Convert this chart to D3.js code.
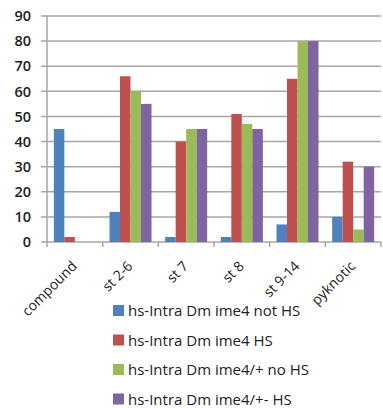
<!DOCTYPE html>
<html>
<head>
<meta charset="utf-8">
<script src="https://cdn.jsdelivr.net/npm/d3@7/dist/d3.min.js"></script>
<style>
  html, body { margin: 0; padding: 0; background: #fff; }
  svg { display: block; }
  text { font-family: "Open Sans", "DejaVu Sans", sans-serif; fill: #222; }
</style>
</head>
<body>
<svg id="chart" width="383" height="408"></svg>
<script>
// Stage categories
const categories = ["compound", "st 2-6", "st 7", "st 8", "st 9-14", "pyknotic"];
// Series names
const seriesNames = [
  "hs-Intra Dm ime4 not HS",
  "hs-Intra Dm ime4 HS",
  "hs-Intra Dm ime4/+ no HS",
  "hs-Intra Dm ime4/+- HS"
];
// Values per series, in category order
const notHS     = [45, 12, 2, 2, 7, 10];
const hs        = [2, 66, 40, 51, 65, 32];
const plusNoHS  = [0, 60, 45, 47, 80, 5];
const plusHS    = [0, 55, 45, 45, 80, 30];
const seriesValues = [notHS, hs, plusNoHS, plusHS];
const colors = ["#4F81BD", "#C0504D", "#9BBB59", "#8064A2"];
const yTicks = [0, 10, 20, 30, 40, 50, 60, 70, 80, 90];

const svg = d3.select("#chart");
const plotLeft = 47, plotRight = 381, plotTop = 16, plotBottom = 242;

const x = d3.scaleBand().domain(categories).range([plotLeft, plotRight]).paddingInner(0).paddingOuter(0);
const inner = d3.scaleBand().domain(d3.range(seriesNames.length))
  .range([0, x.bandwidth()]).paddingInner(0).paddingOuter(0.65);
const y = d3.scaleLinear().domain([0, 90]).range([plotBottom, plotTop]);

// Horizontal gridlines
svg.append("g").selectAll("line").data(yTicks).join("line")
  .attr("x1", plotLeft - 6).attr("x2", plotRight)
  .attr("y1", d => y(d)).attr("y2", d => y(d))
  .attr("stroke", "#a6a6a6").attr("stroke-width", 1.5);

// Y axis labels
svg.append("g").selectAll("text").data(yTicks).join("text")
  .attr("x", 31).attr("y", d => y(d))
  .attr("dy", "0.36em")
  .attr("text-anchor", "end")
  .style("font-size", "14.5px")
  .style("font-weight", "600")
  .text(d => d);

// Y axis line
svg.append("line")
  .attr("x1", plotLeft).attr("x2", plotLeft).attr("y1", plotTop).attr("y2", plotBottom + 5)
  .attr("stroke", "#a6a6a6").attr("stroke-width", 1.5);

// Category tick marks
const bounds = categories.map(c => x(c)).concat([plotRight]);
svg.append("g").selectAll("line").data(bounds.slice(1)).join("line")
  .attr("x1", d => d).attr("x2", d => d)
  .attr("y1", plotBottom).attr("y2", plotBottom + 5)
  .attr("stroke", "#a6a6a6").attr("stroke-width", 1.5);

// Bars
const groups = svg.append("g").selectAll("g").data(seriesValues).join("g")
  .attr("fill", (d, i) => colors[i]);
groups.each(function(vals, si) {
  d3.select(this).selectAll("rect").data(vals).join("rect")
    .attr("x", (v, ci) => x(categories[ci]) + inner(si))
    .attr("width", inner.bandwidth())
    .attr("y", v => y(v))
    .attr("height", v => plotBottom - y(v));
});

// Rotated category labels, text ending just right of each category centre
svg.append("g").selectAll("text").data(categories).join("text")
  .attr("transform", d => `translate(${x(d) + x.bandwidth() / 2 + 3},${plotBottom + 25}) rotate(-45)`)
  .attr("text-anchor", "end")
  .style("font-size", "14px")
  .text(d => d);

// Legend
const legend = svg.append("g").selectAll("g").data(seriesNames).join("g")
  .attr("transform", (d, i) => `translate(113,${311 + i * 29.5})`);
legend.append("rect")
  .attr("x", 0).attr("y", -6).attr("width", 11).attr("height", 11)
  .attr("fill", (d, i) => colors[i]);
legend.append("text")
  .attr("x", 15).attr("y", 0).attr("dy", "0.36em")
  .style("font-size", "15px")
  .text(d => d);
</script>
</body>
</html>
